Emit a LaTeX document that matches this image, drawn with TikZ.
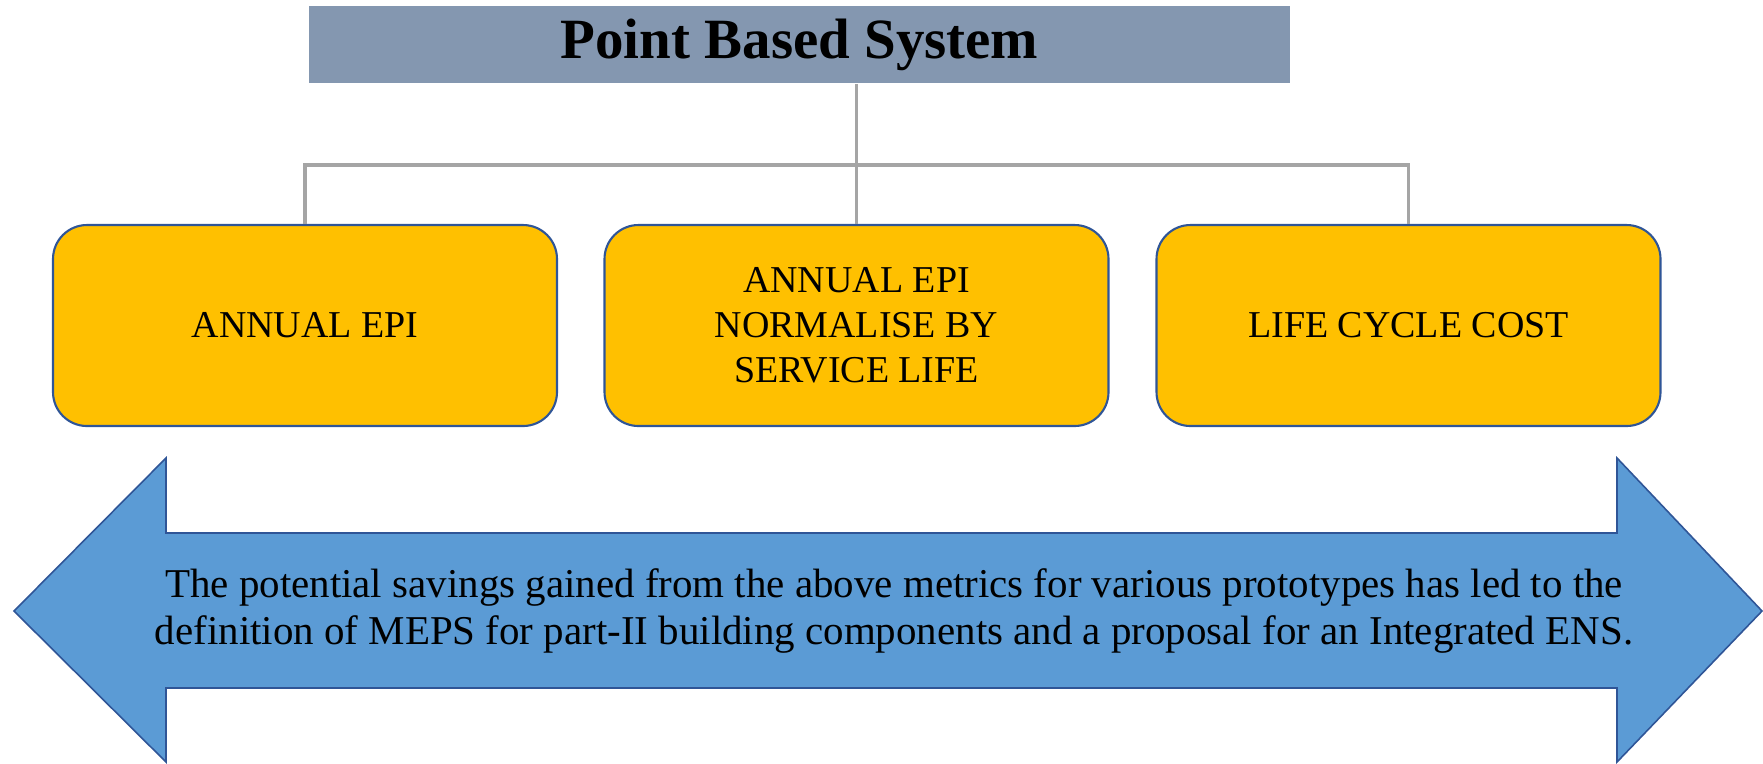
\documentclass[tikz,border=0pt]{standalone}
\usepackage{fontspec}
\setmainfont{Liberation Serif}
\usetikzlibrary{positioning}
\definecolor{titlegrey}{HTML}{8497B0}
\definecolor{boxgold}{HTML}{FFC000}
\definecolor{edgeblue}{HTML}{2F5597}
\definecolor{arrowblue}{HTML}{5B9BD5}
\definecolor{linegrey}{HTML}{A5A5A5}

\begin{document}
\begin{tikzpicture}[x=0.1mm, y=-0.1mm,
	metric/.style={draw=edgeblue, line width=0.6pt, fill=boxgold, rounded corners=3.4mm, minimum width=50.4mm, minimum height=20.1mm, align=center, font=\fontsize{10.8}{12.8}\selectfont},
	link/.style={draw=linegrey, line width=1pt}]
	\useasboundingbox (0,0) rectangle (1763,763);
	\node[fill=titlegrey, minimum width=98.1mm, minimum height=7.7mm, font=\fontsize{16.2}{19}\selectfont\bfseries] (pbs) at (799.5,44.5) {Point Based System};
	\node[metric] (epi) at (305,325.5) {ANNUAL EPI};
	\node[metric] (norm) at (856.5,325.5) {ANNUAL EPI\\NORMALISE BY\\SERVICE LIFE};
	\node[metric] (lcc) at (1408.5,325.5) {LIFE CYCLE COST};
	\coordinate (hub) at (856.5,165);
	\draw[link] (norm.north) -- (norm.north |- pbs.south);
	\draw[link] (epi.north) |- (hub) -| (lcc.north);
	% double arrow
	\draw[draw=edgeblue, line width=0.45pt, fill=arrowblue] (14,611) -- (166,458) -- (166,533) -- (1617,533) -- (1617,458) -- (1762,611) -- (1617,762) -- (1617,688) -- (166,688) -- (166,762) -- cycle;
	\node[align=center, font=\fontsize{11.65}{13.2}\selectfont] (note) at (894,611) {The potential savings gained from the above metrics for various prototypes has led to the\\definition of MEPS for part-II building components and a proposal for an Integrated ENS.};
\end{tikzpicture}
\end{document}
